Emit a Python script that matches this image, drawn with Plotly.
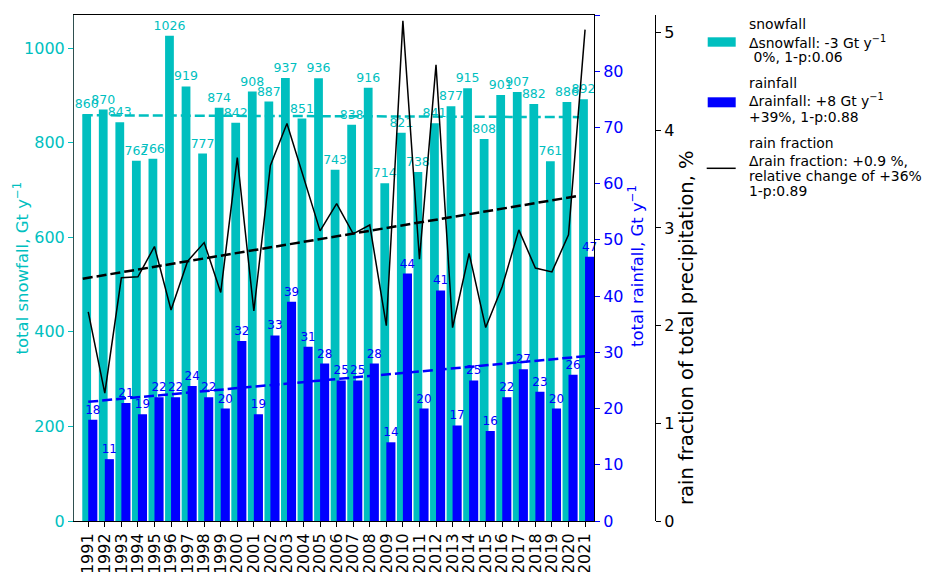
import plotly.graph_objects as go

# ---------------- data ----------------
years = list(range(1991, 2022))
year_labels = [str(y) for y in years]
snowfall = [860, 870, 843, 762, 766, 1026, 919, 777, 874, 842, 908, 887, 937, 851, 936,
            743, 838, 916, 714, 821, 738, 841, 877, 915, 808, 901, 907, 882, 761, 886, 892]
rainfall = [18, 11, 21, 19, 22, 22, 24, 22, 20, 32, 19, 33, 39, 31, 28,
            25, 25, 28, 14, 44, 20, 41, 17, 25, 16, 22, 27, 23, 20, 26, 47]
rain_fraction = [2.14, 1.31, 2.49, 2.50, 2.81, 2.16, 2.66, 2.85, 2.34, 3.72, 2.15, 3.64, 4.07, 3.52, 2.97,
                 3.25, 2.94, 3.03, 2.00, 5.12, 2.68, 4.67, 1.98, 2.74, 1.98, 2.40, 2.98, 2.59, 2.55, 2.93, 5.03]
snow_trend = [858, 854]      # trend line values at first / last year
rain_trend = [21.2, 29.3]
frac_trend = [2.48, 3.33]

legend_snow = ["snowfall", "Δsnowfall: -3 Gt y<sup>−1</sup>", "&nbsp;0%, 1-p:0.06"]
legend_rain = ["rainfall", "Δrainfall: +8 Gt y<sup>−1</sup>", "+39%, 1-p:0.88"]
legend_frac = ["rain fraction", "Δrain fraction: +0.9 %,", "relative change of +36%", "1-p:0.89"]

# ---------------- style ----------------
CYAN = "#00BFBF"
BLUE = "#0000FF"
FONT = "DejaVu Sans"
OFF = 8                      # page body margin of the browser
W, H = 930 - OFF, 572 - OFF
PLOT_L, PLOT_R = 74, 594     # page pixel coordinates
PLOT_T, PLOT_B = 15, 521
ML, MR = 0, 0
MT, MB = PLOT_T - OFF, H - (PLOT_B - OFF)


def px_x(px):
    return (px - OFF - ML) / (W - ML - MR)


def px_y(py):
    return (PLOT_B - py) / (PLOT_B - PLOT_T)


snow_off = -0.36
trend_off = -0.33

fig = go.Figure()

fig.add_trace(go.Bar(
    x=years, y=snowfall, offset=snow_off, width=0.53,
    marker=dict(color=CYAN, line=dict(width=0)),
    text=[str(v) for v in snowfall], textposition="outside", textangle=0,
    constraintext="none", cliponaxis=False,
    textfont=dict(color=CYAN, size=12.5, family=FONT),
    yaxis="y", showlegend=False, name="snowfall"))

fig.add_trace(go.Scatter(
    x=[years[0] + trend_off, years[-1] + trend_off], y=snow_trend, mode="lines",
    line=dict(color=CYAN, width=2.5, dash="10px,4px"), yaxis="y", showlegend=False))

fig.add_trace(go.Bar(
    x=years, y=rainfall, offset=0.0, width=0.55,
    marker=dict(color=BLUE, line=dict(width=0)),
    text=[str(v) for v in rainfall], textposition="outside", textangle=0,
    constraintext="none", cliponaxis=False,
    textfont=dict(color=BLUE, size=12, family=FONT),
    yaxis="y2", showlegend=False, name="rainfall"))

fig.add_trace(go.Scatter(
    x=[years[0], years[-1]], y=rain_trend, mode="lines",
    line=dict(color=BLUE, width=2.5, dash="10px,4px"), yaxis="y2", showlegend=False))

fig.add_trace(go.Scatter(
    x=years, y=rain_fraction, mode="lines",
    line=dict(color="black", width=1.5), yaxis="y3", showlegend=False, name="rain fraction"))

fig.add_trace(go.Scatter(
    x=[years[0] + trend_off, years[-1] + trend_off], y=frac_trend, mode="lines",
    line=dict(color="black", width=2.5, dash="10px,4px"), yaxis="y3", showlegend=False))

fig.update_layout(
    width=W, height=H, template="none",
    paper_bgcolor="white", plot_bgcolor="white",
    margin=dict(l=ML, r=MR, t=MT, b=MB, pad=0),
    barmode="overlay", showlegend=False,
    font=dict(family=FONT, size=14, color="black"),
    xaxis=dict(
        domain=[px_x(PLOT_L), px_x(PLOT_R)], range=[1990.14, 2021.54],
        tickmode="array", tickvals=years, ticktext=year_labels, tickangle=-90,
        ticks="outside", ticklen=5, tickwidth=1, tickcolor="black",
        tickfont=dict(family=FONT, size=16, color="black"),
        showline=True, linecolor="black", linewidth=1, mirror=True,
        showgrid=False, zeroline=False, automargin=False),
    yaxis=dict(
        range=[0, 1070], tickvals=[0, 200, 400, 600, 800, 1000],
        ticks="outside", ticklen=5, tickwidth=1, tickcolor=CYAN,
        tickfont=dict(family=FONT, size=16, color=CYAN),
        showline=True, linecolor="#2f4f4f", linewidth=1,
        showgrid=False, zeroline=False, automargin=False),
    yaxis2=dict(
        range=[0, 90], tickvals=list(range(0, 91, 10)), overlaying="y", side="right",
        anchor="x",
        ticks="outside", ticklen=5, tickwidth=1, tickcolor=BLUE,
        tickfont=dict(family=FONT, size=16, color=BLUE),
        showline=True, linecolor="black", linewidth=1,
        showgrid=False, zeroline=False, automargin=False),
    yaxis3=dict(
        range=[0, 5.18], tickvals=[0, 1, 2, 3, 4, 5], overlaying="y", side="right",
        anchor="free", position=px_x(655),
        ticks="outside", ticklen=5, tickwidth=1, tickcolor="black",
        tickfont=dict(family=FONT, size=16, color="black"),
        showline=True, linecolor="black", linewidth=1,
        showgrid=False, zeroline=False, automargin=False),
)

annotations = []
# axis titles (page px x-centre, page px y-centre)
for txt, xpx, ypx, size, col in [("total snowfall, Gt y<sup>−1</sup>", 21.5, 268, 16.5, CYAN),
                                  ("total rainfall, Gt y<sup>−1</sup>", 636, 266, 16.5, BLUE),
                                  ("rain fraction of total precipitation, %", 686, 328, 19.5, "black")]:
    annotations.append(dict(text=txt, x=px_x(xpx), y=px_y(ypx), xref="paper", yref="paper",
                            xanchor="center", yanchor="middle", textangle=-90, showarrow=False,
                            font=dict(family=FONT, size=size, color=col)))

# legend
LEG_TX = 746.7
for lines, ys in [(legend_snow, [24, 41.7, 57]),
                  (legend_rain, [83.3, 100, 117.3]),
                  (legend_frac, [143.3, 160.7, 175.7, 190.7])]:
    for t, yy in zip(lines, ys):
        annotations.append(dict(text=t, x=px_x(LEG_TX), y=px_y(yy), xref="paper", yref="paper",
                                xanchor="left", yanchor="middle", showarrow=False,
                                font=dict(family=FONT, size=13.9, color="black")))

shapes = [
    dict(type="rect", xref="paper", yref="paper", x0=px_x(707.7), x1=px_x(735.7),
         y0=px_y(46.7), y1=px_y(37.3), fillcolor=CYAN, line=dict(width=0)),
    dict(type="rect", xref="paper", yref="paper", x0=px_x(707.7), x1=px_x(735.7),
         y0=px_y(107.3), y1=px_y(97.3), fillcolor=BLUE, line=dict(width=0)),
    dict(type="line", xref="paper", yref="paper", x0=px_x(706.7), x1=px_x(735.7),
         y0=px_y(168.3), y1=px_y(168.3), line=dict(color="black", width=1.5)),
]

fig.update_layout(annotations=annotations, shapes=shapes)

fig.write_html("out.html")
